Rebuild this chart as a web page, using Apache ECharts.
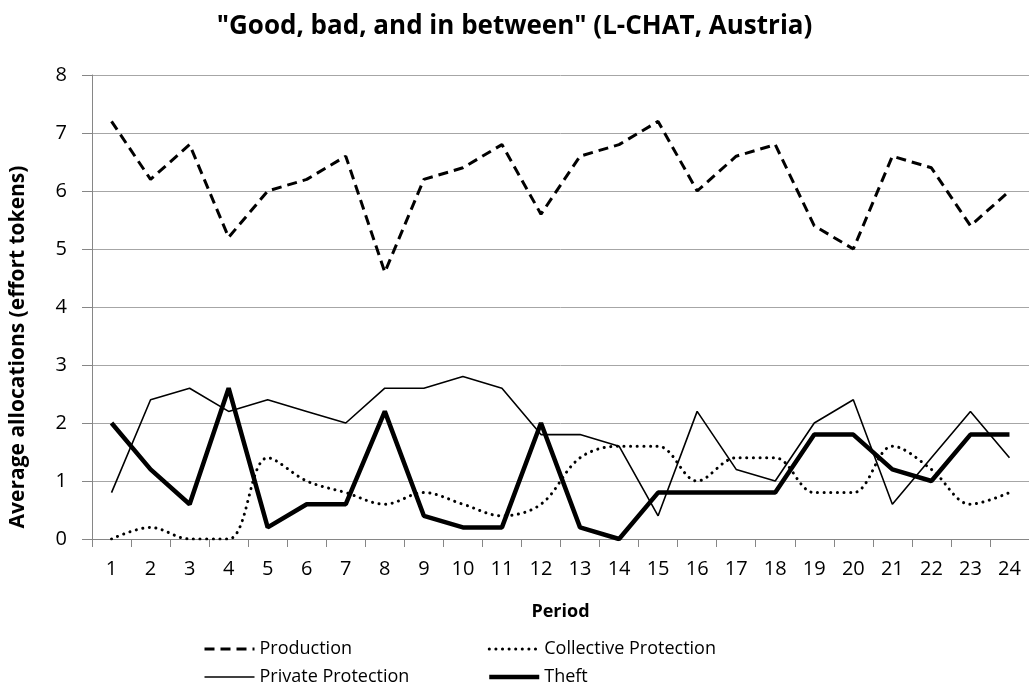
<!DOCTYPE html>
<html>
<head>
<meta charset="utf-8">
<script src="https://cdn.jsdelivr.net/npm/echarts@6/dist/echarts.min.js"></script>
<style>
  html, body { margin: 0; padding: 0; background: #fff; }
  #chart { width: 1029px; height: 698px; }
</style>
</head>
<body>
<div id="chart"></div>
<script>
// data
const periods = ['1','2','3','4','5','6','7','8','9','10','11','12','13','14','15','16','17','18','19','20','21','22','23','24'];
const production = [7.2, 6.2, 6.8, 5.2, 6.0, 6.2, 6.6, 4.6, 6.2, 6.4, 6.8, 5.6, 6.6, 6.8, 7.2, 6.0, 6.6, 6.8, 5.4, 5.0, 6.6, 6.4, 5.4, 6.0];
const collective = [0, 0.2, 0, 0, 1.4, 1.0, 0.8, 0.6, 0.8, 0.6, 0.4, 0.6, 1.4, 1.6, 1.6, 1.0, 1.4, 1.4, 0.8, 0.8, 1.6, 1.2, 0.6, 0.8];
const privateProt = [0.8, 2.4, 2.6, 2.2, 2.4, 2.2, 2.0, 2.6, 2.6, 2.8, 2.6, 1.8, 1.8, 1.6, 0.4, 2.2, 1.2, 1.0, 2.0, 2.4, 0.6, 1.4, 2.2, 1.4];
const theft = [2.0, 1.2, 0.6, 2.6, 0.2, 0.6, 0.6, 2.2, 0.4, 0.2, 0.2, 2.0, 0.2, 0.0, 0.8, 0.8, 0.8, 0.8, 1.8, 1.8, 1.2, 1.0, 1.8, 1.8];

const font = '"Open Sans", sans-serif';
var myChart = echarts.init(document.getElementById('chart'));

// line looks, shared by series and legend icons
const styles = {
    'Production': { color: '#000', width: 3, type: [10, 6] },
    'Collective Protection': { color: '#000', width: 3, type: [0.1, 6.5], cap: 'round' },
    'Private Protection': { color: '#000', width: 1.6 },
    'Theft': { color: '#000', width: 4.5 }
};

function legendItem(name) {
    return { name: name, lineStyle: styles[name], itemStyle: { opacity: 0 } };
}

var legendCommon = {
    orient: 'vertical',
    top: 640,
    padding: 0,
    itemWidth: 50,
    itemHeight: 16,
    itemGap: 10,
    textStyle: { fontFamily: font, fontSize: 18, color: '#000' }
};

var option = {
    animation: false,
    textStyle: { fontFamily: font, color: '#000' },
    title: {
        text: '"Good, bad, and in between" (L-CHAT, Austria)',
        left: 'center',
        top: 9,
        textStyle: { fontFamily: font, fontSize: 26, fontWeight: 'bold', color: '#000' }
    },
    legend: [
        Object.assign({ left: 203, data: [legendItem('Production'), legendItem('Private Protection')] }, legendCommon),
        Object.assign({ left: 487, data: [legendItem('Collective Protection'), legendItem('Theft')] }, legendCommon)
    ],
    graphic: [{
        type: 'text',
        rotation: Math.PI / 2,
        x: 18,
        y: 347,
        style: {
            text: 'Average allocations (effort tokens)',
            font: 'bold 21px "Open Sans", sans-serif',
            fill: '#000',
            align: 'center',
            verticalAlign: 'middle'
        }
    }],
    grid: { left: 92, right: 0, top: 75, bottom: 159 },
    xAxis: {
        type: 'category',
        data: periods,
        boundaryGap: true,
        name: 'Period',
        nameLocation: 'middle',
        nameGap: 64,
        nameTextStyle: { fontFamily: font, fontSize: 18, fontWeight: 'bold', color: '#000' },
        axisLine: { lineStyle: { color: '#868686', width: 1 } },
        axisTick: { show: true, length: 8, lineStyle: { color: '#868686' } },
        axisLabel: { fontFamily: font, fontSize: 20, color: '#000', margin: 20 }
    },
    yAxis: {
        type: 'value',
        min: 0,
        max: 8,
        interval: 1,
        axisLine: { show: true, lineStyle: { color: '#868686', width: 1 } },
        axisTick: { show: true, length: 10, lineStyle: { color: '#868686' } },
        axisLabel: { fontFamily: font, fontSize: 20, color: '#000', margin: 25 },
        splitLine: { lineStyle: { color: '#a6a6a6', width: 1 } }
    },
    series: [{
        name: 'Production',
        type: 'line',
        data: production,
        symbol: 'none',
        itemStyle: { color: '#000' },
        lineStyle: styles['Production']
    }, {
        name: 'Collective Protection',
        type: 'line',
        data: collective,
        symbol: 'none',
        smooth: 0.35,
        itemStyle: { color: '#000' },
        lineStyle: styles['Collective Protection']
    }, {
        name: 'Private Protection',
        type: 'line',
        data: privateProt,
        symbol: 'none',
        itemStyle: { color: '#000' },
        lineStyle: styles['Private Protection']
    }, {
        name: 'Theft',
        type: 'line',
        data: theft,
        symbol: 'none',
        itemStyle: { color: '#000' },
        lineStyle: styles['Theft']
    }]
};

myChart.setOption(option);
</script>
</body>
</html>
